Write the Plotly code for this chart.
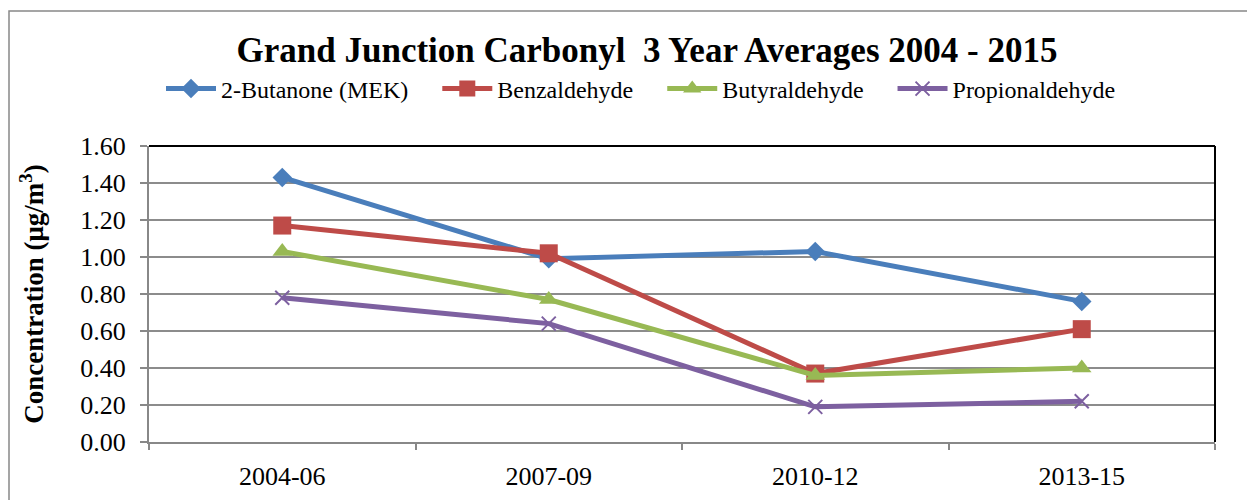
import plotly.graph_objects as go

categories = ["2004-06", "2007-09", "2010-12", "2013-15"]
mek = [1.43, 0.99, 1.03, 0.76]
benzaldehyde = [1.17, 1.02, 0.37, 0.61]
butyraldehyde = [1.03, 0.77, 0.36, 0.40]
propionaldehyde = [0.78, 0.64, 0.19, 0.22]
y_ticks = [0.0, 0.2, 0.4, 0.6, 0.8, 1.0, 1.2, 1.4, 1.6]
series_names = ["2-Butanone (MEK)", "Benzaldehyde", "Butyraldehyde", "Propionaldehyde"]

FONT = "Liberation Serif, Times New Roman, serif"
PAD = "\u00a0" * 4

series = [
    (series_names[0] + PAD, mek, "#4A7EBB", dict(symbol="diamond", size=15)),
    (series_names[1] + PAD, benzaldehyde, "#BE4B48", dict(symbol="square", size=18)),
    (series_names[2] + PAD, butyraldehyde, "#98B954", dict(symbol="triangle-up", size=17)),
    (series_names[3], propionaldehyde, "#7D60A0", dict(symbol="x-thin", size=14)),
]

fig = go.Figure()
for name, vals, color, mk in series:
    marker = dict(color=color, **mk)
    if mk["symbol"] == "x-thin":
        marker["line"] = dict(color=color, width=2)
    fig.add_trace(go.Scatter(
        x=categories, y=vals, name=name, mode="lines+markers",
        line=dict(color=color, width=5), marker=marker,
    ))

# page body has an 8px margin; work in figure coordinates
OFF = 8
W, H = 1255 - OFF, 500 - OFF
L, T = 149 - OFF, 146 - OFF
R, B = 40, 58
pw, ph = W - L - R, H - T - B

fig.update_layout(
    width=W, height=H,
    margin=dict(l=L, r=R, t=T, b=B, autoexpand=False),
    paper_bgcolor="white", plot_bgcolor="white",
    font=dict(family=FONT, color="black"),
    title=dict(
        text="<b>Grand Junction Carbonyl  3 Year Averages 2004 - 2015</b>",
        font=dict(size=35, family=FONT, color="black"),
        x=(647 - OFF - L) / pw, xref="paper", xanchor="center",
        y=1 - (50 - OFF) / H, yref="container", yanchor="middle",
    ),
    legend=dict(
        orientation="h", x=(641 - OFF - L) / pw, xanchor="center",
        y=1 + (T - (89 - OFF)) / ph, yanchor="middle",
        font=dict(size=24, family=FONT), bgcolor="rgba(0,0,0,0)",
        itemwidth=50,
    ),
    showlegend=True,
    xaxis=dict(
        type="category", range=[-0.5, 3.5],
        tickson="boundaries", ticks="outside", ticklen=6, tickcolor="#888888", tickwidth=1.5,
        showline=True, linecolor="#888888", linewidth=2,
        showgrid=False, tickfont=dict(size=26, family=FONT),
        ticklabelstandoff=10, automargin=False,
        fixedrange=True,
    ),
    yaxis=dict(
        range=[0, 1.6], tickvals=y_ticks, tickformat=".2f",
        ticks="outside", ticklen=7, tickcolor="#888888", tickwidth=1.5,
        showline=True, linecolor="#888888", linewidth=2,
        showgrid=True, gridcolor="#8c8c8c", gridwidth=1.5,
        zeroline=False, automargin=False,
        tickfont=dict(size=26, family=FONT),
        ticklabelstandoff=9,
        title=dict(text="<b>Concentration (μg/m<sup>3</sup>)</b>",
                   font=dict(size=27, family=FONT), standoff=29),
        fixedrange=True,
    ),
    shapes=[
        dict(type="line", xref="paper", yref="paper", x0=0, x1=1, y0=1, y1=1,
             line=dict(color="black", width=2), layer="above"),
        dict(type="line", xref="paper", yref="paper", x0=1, x1=1, y0=0, y1=1,
             line=dict(color="black", width=2), layer="above"),
        dict(type="rect", xref="paper", yref="paper",
             x0=(1 - L) / pw, x1=(W + 10 - L) / pw,
             y0=-(B + 10) / ph, y1=1 + (T - 3) / ph,
             line=dict(color="#888888", width=1.5), layer="below"),
    ],
)

fig.write_html("out.html")
